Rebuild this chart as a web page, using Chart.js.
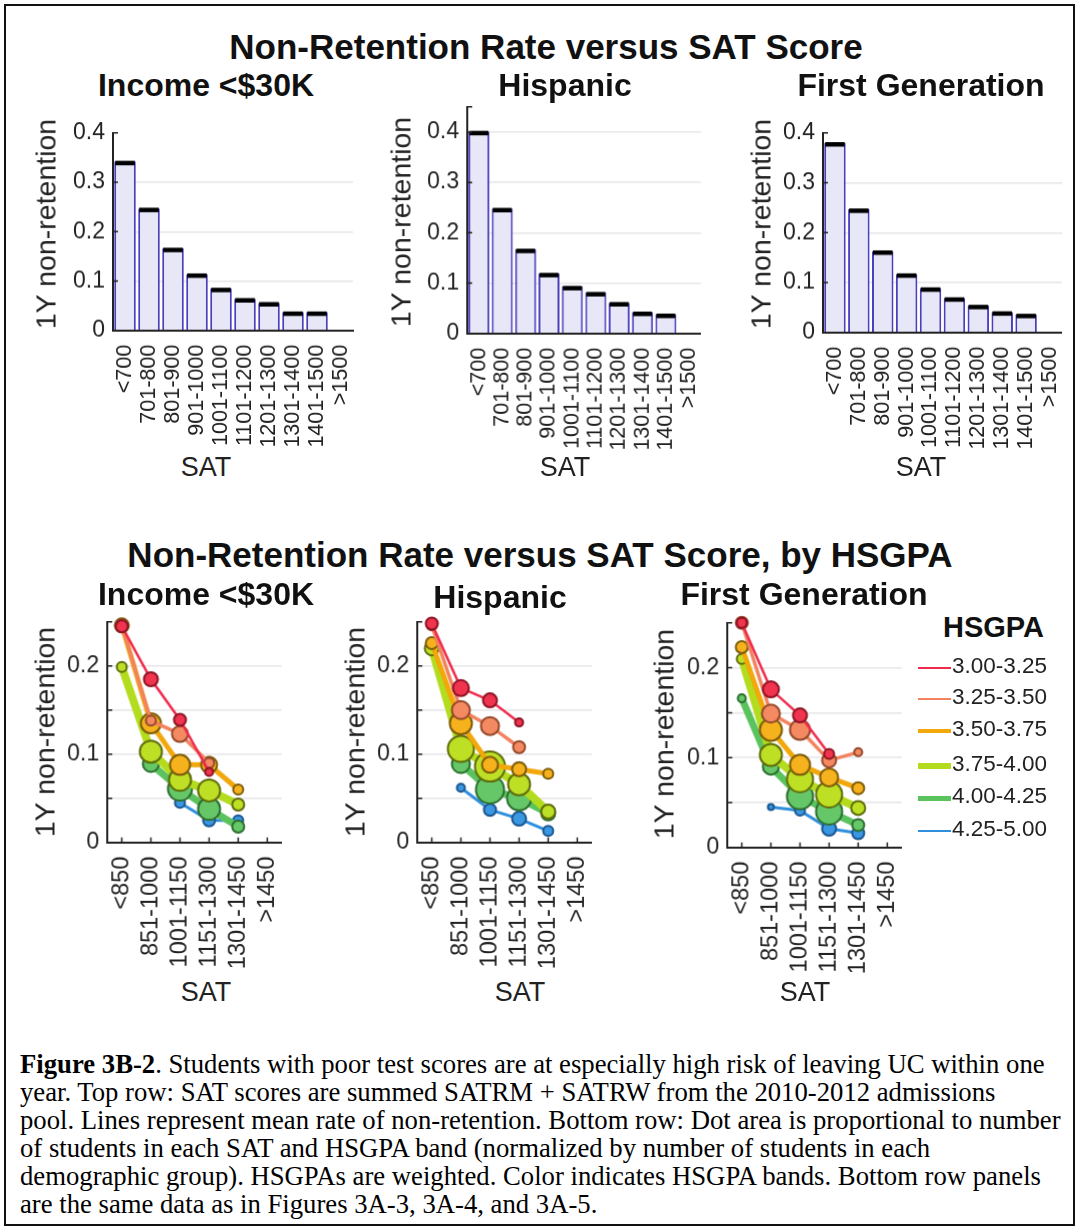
<!DOCTYPE html>
<html>
<head>
<meta charset="utf-8">
<script src="https://cdn.jsdelivr.net/npm/chart.js@4.4.1/dist/chart.umd.min.js"></script>
<style>
  body { margin: 0; background: #fff; width: 1078px; height: 1230px; position: relative; overflow: hidden;
         font-family: "Liberation Sans", Arial, sans-serif; color: #111; }
  #frame { position: absolute; left: 4px; top: 4px; width: 1071px; height: 1222px; border: 2px solid #111; box-sizing: border-box; }
  .box { position: absolute; }
  .t { position: absolute; white-space: nowrap; transform: translate(-50%, -50%); }
  .title { font-weight: bold; font-size: 35px; }
  .sub { font-weight: bold; font-size: 32px; }
  .axt { font-size: 27px; color: #222; }
  .rot { transform: translate(-50%, -50%) rotate(-90deg); font-size: 28.5px; }
  #legend { position: absolute; left: 918px; top: 605px; }
  .lg { position: absolute; white-space: nowrap; font-size: 22.5px; color: #222; }
  .lg i { position: absolute; left: 0; width: 33px; }
  #caption { position: absolute; left: 20px; top: 1050px; font-family: "Liberation Serif", "Times New Roman", serif;
             font-size: 26.7px; line-height: 28px; color: #000; white-space: nowrap; }
</style>
</head>
<body>
<div id="frame"></div>

<div class="box" id="b1"><canvas id="c1"></canvas></div>
<div class="box" id="b2"><canvas id="c2"></canvas></div>
<div class="box" id="b3"><canvas id="c3"></canvas></div>
<div class="box" id="b4"><canvas id="c4"></canvas></div>
<div class="box" id="b5"><canvas id="c5"></canvas></div>
<div class="box" id="b6"><canvas id="c6"></canvas></div>

<div class="t title" style="left:546px;top:47px">Non-Retention Rate versus SAT Score</div>
<div class="t sub" style="left:206px;top:85px">Income &lt;$30K</div>
<div class="t sub" style="left:565px;top:85px">Hispanic</div>
<div class="t sub" style="left:921px;top:85px">First Generation</div>

<div class="t axt rot" style="left:46px;top:224px">1Y non-retention</div>
<div class="t axt rot" style="left:401px;top:222px">1Y non-retention</div>
<div class="t axt rot" style="left:761px;top:224px">1Y non-retention</div>
<div class="t axt" style="left:206px;top:467px">SAT</div>
<div class="t axt" style="left:565px;top:467px">SAT</div>
<div class="t axt" style="left:921px;top:467px">SAT</div>

<div class="t title" style="left:540px;top:555px">Non-Retention Rate versus SAT Score, by HSGPA</div>
<div class="t sub" style="left:206px;top:594px">Income &lt;$30K</div>
<div class="t sub" style="left:500px;top:597px">Hispanic</div>
<div class="t sub" style="left:804px;top:594px">First Generation</div>

<div class="t axt rot" style="left:45px;top:732px">1Y non-retention</div>
<div class="t axt rot" style="left:355px;top:732px">1Y non-retention</div>
<div class="t axt rot" style="left:664px;top:734px">1Y non-retention</div>
<div class="t axt" style="left:206px;top:992px">SAT</div>
<div class="t axt" style="left:520px;top:992px">SAT</div>
<div class="t axt" style="left:805px;top:992px">SAT</div>

<div id="legend"></div>

<div id="caption"><b>Figure 3B-2</b>. Students with poor test scores are at especially high risk of leaving UC within one<br>year. Top row: SAT scores are summed SATRM + SATRW from the 2010-2012 admissions<br>pool. Lines represent mean rate of non-retention. Bottom row: Dot area is proportional to number<br>of students in each SAT and HSGPA band (normalized by number of students in each<br>demographic group). HSGPAs are weighted. Color indicates HSGPA bands. Bottom row panels<br>are the same data as in Figures 3A-3, 3A-4, and 3A-5.</div>

<script>
// top row: mean 1-year non-retention by SAT band
const satTop = ['<700', '701-800', '801-900', '901-1000', '1001-1100', '1101-1200', '1201-1300', '1301-1400', '1401-1500', '>1500'];
const incomeMean   = [0.342, 0.247, 0.166, 0.114, 0.085, 0.064, 0.056, 0.037, 0.037, 0];
const hispanicMean = [0.401, 0.248, 0.167, 0.119, 0.093, 0.081, 0.061, 0.042, 0.038, 0];
const firstGenMean = [0.380, 0.247, 0.163, 0.117, 0.089, 0.069, 0.054, 0.041, 0.036, 0];

// bottom row: rate per SAT band, one row per HSGPA band
const satBottom = ['<850', '851-1000', '1001-1150', '1151-1300', '1301-1450', '>1450'];
const gpaBands = ['3.00-3.25', '3.25-3.50', '3.50-3.75', '3.75-4.00', '4.00-4.25', '4.25-5.00'];

const incomeRate = [
  [0.245, 0.185, 0.139, 0.080, null, null],
  [0.246, 0.138, 0.123, 0.090, null, null],
  [0.246, 0.135, 0.088, 0.088, 0.060, null],
  [0.199, 0.103, 0.071, 0.059, 0.043, null],
  [null, 0.089, 0.061, 0.038, 0.018, null],
  [null, null, 0.045, 0.025, 0.025, null]
];
const hispanicRate = [
  [0.248, 0.175, 0.161, 0.136, null, null],
  [0.246, 0.150, 0.132, 0.108, null, null],
  [0.226, 0.135, 0.088, 0.083, 0.078, null],
  [0.220, 0.106, 0.086, 0.066, 0.035, null],
  [null, 0.089, 0.060, 0.050, 0.033, null],
  [null, 0.062, 0.037, 0.027, 0.013, null]
];
const firstGenRate = [
  [0.250, 0.176, 0.147, 0.104, null, null],
  [0.250, 0.149, 0.131, 0.097, 0.106, null],
  [0.223, 0.131, 0.092, 0.078, 0.066, null],
  [0.210, 0.103, 0.076, 0.059, 0.044, null],
  [0.166, 0.090, 0.057, 0.040, 0.025, null],
  [null, 0.045, 0.041, 0.021, 0.016, null]
];

// dot radius (px), stands for the number of students in each band
const incomeSize = [
  [6, 7, 6, 4, 0, 0],
  [6, 5, 8, 5, 0, 0],
  [7, 10, 10, 8, 5, 0],
  [5, 11, 11, 11, 6, 0],
  [0, 8, 12, 11, 6, 0],
  [0, 0, 5, 6, 5, 0]
];
const hispanicSize = [
  [6, 8, 7, 4, 0, 0],
  [5, 9, 9, 6, 0, 0],
  [6, 11, 8, 7, 5, 0],
  [7, 13, 15, 11, 7, 0],
  [0, 9, 14, 12, 7, 0],
  [0, 4, 6, 7, 5, 0]
];
const firstGenSize = [
  [5, 8, 7, 5, 0, 0],
  [6, 9, 10, 7, 4, 0],
  [6, 11, 10, 9, 6, 0],
  [5, 11, 13, 13, 7, 0],
  [4, 8, 13, 13, 6, 0],
  [0, 3, 5, 7, 6, 0]
];

// colours per HSGPA band
const lineColor = ['#ef2a4c', '#f3825e', '#f2a70a', '#b4dc1e', '#5ac35e', '#2f8fdc'];
const dotColor  = ['#f0334f', '#f48a62', '#f5b21c', '#bde025', '#66c768', '#3a97e2'];
const edgeColor = ['#8e1424', '#94482a', '#7d5c08', '#5f6c0c', '#2c6e2f', '#1a5690'];
const lineWidth = [2.5, 3.5, 5, 8, 7, 3];

Chart.defaults.font.family = '"Liberation Sans", Arial, sans-serif';
Chart.defaults.color = '#222';

// black mean line on top of every bar
const meanLine = {
  id: 'meanLine',
  afterDatasetsDraw(chart) {
    const ctx = chart.ctx;
    chart.getDatasetMeta(0).data.forEach(bar => {
      if (bar.base - bar.y < 1) return;
      ctx.save();
      ctx.strokeStyle = '#000';
      ctx.lineWidth = 4.5;
      ctx.beginPath();
      ctx.moveTo(bar.x - bar.width / 2 + 1, bar.y + 1.5);
      ctx.lineTo(bar.x + bar.width / 2 - 1, bar.y + 1.5);
      ctx.stroke();
      ctx.restore();
    });
  }
};

// small tick marks pointing into the plot, matlab style
const innerTicks = {
  id: 'innerTicks',
  afterDraw(chart) {
    const ctx = chart.ctx, xs = chart.scales.x, ys = chart.scales.y;
    ctx.save();
    ctx.strokeStyle = '#222';
    ctx.lineWidth = 1.5;
    ctx.beginPath();
    ys.ticks.forEach((t, i) => {
      const py = ys.getPixelForTick(i);
      ctx.moveTo(xs.left, py);
      ctx.lineTo(xs.left + 5, py);
    });
    if (chart.config.type === 'line') {
      xs.ticks.forEach((t, i) => {
        const px = xs.getPixelForTick(i);
        ctx.moveTo(px, ys.bottom);
        ctx.lineTo(px, ys.bottom - 5);
      });
    }
    ctx.stroke();
    ctx.restore();
  }
};

function tenth(v) {
  return Math.abs(v * 10 - Math.round(v * 10)) < 1e-6;
}

function yScale(max, step, fontSize) {
  return {
    min: 0, max: max,
    ticks: {
      stepSize: step, padding: 8, font: { size: fontSize },
      callback: v => tenth(v) ? (v === 0 ? '0' : v.toFixed(1)) : ''
    },
    grid: {
      drawTicks: false, lineWidth: 1.5,
      color: c => (c.tick.value === 0 || c.tick.value > max - 1e-6 || (step === 0.1 && !tenth(c.tick.value))) ? 'rgba(0,0,0,0)' : '#e6e6ea'
    },
    border: { color: '#222', width: 2 },
    afterFit: s => { s.width = 60; }
  };
}

function xScale(fontSize, height) {
  return {
    offset: true,
    grid: { display: false },
    border: { color: '#222', width: 2 },
    ticks: { autoSkip: false, minRotation: 90, maxRotation: 90, padding: 6, font: { size: fontSize }, color: '#222' },
    afterFit: s => { s.height = height; }
  };
}

// move / size the box so the plot area lands on the wanted pixels
function place(chart, box, a) {
  for (let k = 0; k < 2; k++) {
    const ca = chart.chartArea;
    const w = parseFloat(box.style.width), h = parseFloat(box.style.height);
    box.style.left = (a.left - ca.left) + 'px';
    box.style.top = (a.top - ca.top) + 'px';
    box.style.width = (w + (a.right - a.left) - (ca.right - ca.left)) + 'px';
    box.style.height = (h + (a.bottom - a.top) - (ca.bottom - ca.top)) + 'px';
    chart.resize();
  }
}

function makeChart(n, config, area) {
  const box = document.getElementById('b' + n);
  box.style.left = (area.left - 60) + 'px';
  box.style.top = (area.top - 20) + 'px';
  box.style.width = (area.right - area.left + 80) + 'px';
  box.style.height = (area.bottom - area.top + 160) + 'px';
  config.options.responsive = true;
  config.options.maintainAspectRatio = false;
  config.options.animation = false;
  config.options.events = [];
  config.options.layout = { padding: { top: 12, right: 12 } };
  config.options.plugins = { legend: { display: false }, tooltip: { enabled: false } };
  const chart = new Chart(document.getElementById('c' + n), config);
  place(chart, box, area);
  return chart;
}

function barChart(n, values, max, area) {
  return makeChart(n, {
    type: 'bar',
    data: {
      labels: satTop,
      datasets: [{
        data: values,
        backgroundColor: '#e7e7f8',
        borderColor: '#4a3fbc',
        borderWidth: 2,
        categoryPercentage: 1,
        barPercentage: 0.9
      }]
    },
    options: { scales: { x: xScale(21.5, 120), y: yScale(max, 0.1, 23) } },
    plugins: [meanLine, innerTicks]
  }, area);
}

function dotChart(n, rates, sizes, area) {
  return makeChart(n, {
    type: 'line',
    data: {
      labels: satBottom,
      datasets: rates.map((r, i) => ({
        label: gpaBands[i],
        data: r,
        borderColor: lineColor[i],
        borderWidth: lineWidth[i],
        pointRadius: sizes[i],
        pointBackgroundColor: dotColor[i],
        pointBorderColor: edgeColor[i],
        pointBorderWidth: 2,
        tension: 0,
        clip: false
      }))
    },
    options: { scales: { x: xScale(23.5, 130), y: yScale(0.25, 0.05, 23) } },
    plugins: [innerTicks]
  }, area);
}

barChart(1, incomeMean, 0.4, { left: 113, right: 353, top: 133, bottom: 330 });
barChart(2, hispanicMean, 0.45, { left: 467, right: 700, top: 107, bottom: 333 });
barChart(3, firstGenMean, 0.4, { left: 823, right: 1062, top: 133, bottom: 332 });

dotChart(4, incomeRate, incomeSize, { left: 107, right: 281, top: 622, bottom: 842 });
dotChart(5, hispanicRate, hispanicSize, { left: 417, right: 591, top: 622, bottom: 842 });
dotChart(6, firstGenRate, firstGenSize, { left: 727, right: 901, top: 623, bottom: 847 });

// legend for the HSGPA bands
const legend = document.getElementById('legend');
let html = '<div class="lg" style="left:25px;top:6px;font-weight:bold;font-size:29px;color:#111">HSGPA</div>';
const rowY = [62, 93, 125, 160, 192, 225];
gpaBands.forEach((b, i) => {
  const lw = Math.max(2, Math.round(lineWidth[i] * 0.7));
  html += '<div class="lg" style="left:0;top:' + (rowY[i] - 14) + 'px;padding-left:34px">' +
    '<i style="top:' + (15 - lw / 2) + 'px;height:' + lw + 'px;background:' + lineColor[i] + '"></i>' + b + '</div>';
});
legend.innerHTML = html;
</script>
</body>
</html>
